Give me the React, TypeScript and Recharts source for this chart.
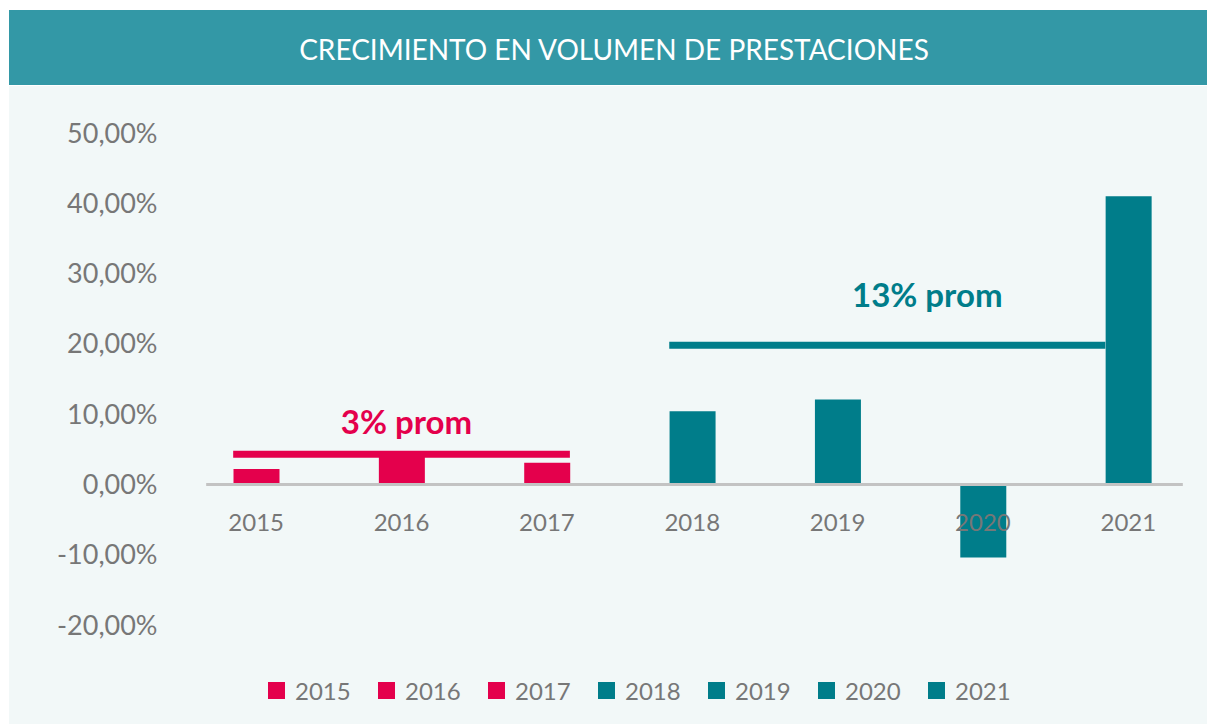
import { BarChart, Bar, XAxis, YAxis, ReferenceLine, Legend } from "recharts";

const years = ["2015", "2016", "2017", "2018", "2019", "2020", "2021"];
const growth = [2.2, 4.3, 3.1, 10.4, 12.1, -10.4, 41.0];
const yTicks = [-20, -10, 0, 10, 20, 30, 40, 50];
const pinkYears = ["2015", "2016", "2017"];
const avgLow = 4.3; // height of the "3% prom" bracket
const avgHigh = 19.8; // height of the "13% prom" bracket

const PINK = "#e4004c";
const TEAL = "#007d8a";
const BAR = 46;
const FONT = "Lato, 'Open Sans', sans-serif";

// one row per year, one key per year so every year gets its own legend entry
const rows = years.map((y, i) => {
    const row: Record<string, string | number> = { year: y };
    row["y" + y] = growth[i];
    return row;
});

const colorOf = (y: string) => (pinkYears.includes(y) ? PINK : TEAL);

// line shape that can be pushed past the segment ends
const stretched = (left: number, right: number) => (p: any) => (
    <line
        x1={p.x1 - left}
        y1={p.y1}
        x2={p.x2 + right}
        y2={p.y2}
        stroke={p.stroke}
        strokeWidth={p.strokeWidth}
    />
);

const fmt = (v: number) => `${v.toFixed(2).replace(".", ",")}%`;

const YearTick = ({ x, y, payload }: any) => (
    <text x={x} y={y - 102} dy="0.35em" textAnchor="middle" fill="#777" fontSize={24} fontFamily={FONT}>
        {payload.value}
    </text>
);

const LegendRow = ({ payload }: any) => (
    <div style={{ display: "flex", paddingLeft: 259, height: 40, alignItems: "center" }}>
        {(payload || []).map((e: any) => (
            <div key={e.value} style={{ display: "flex", alignItems: "center", width: 110 }}>
                <span style={{ width: 17, height: 17, background: e.color, marginRight: 10 }} />
                <span style={{ color: "#777", fontSize: 24, fontFamily: FONT }}>{e.value}</span>
            </div>
        ))}
    </div>
);

export default function App() {
    return (
        <div style={{ position: "absolute", left: 0, top: 0, width: 1207, height: 724, background: "#fff" }}>
            <div
                style={{
                    position: "absolute",
                    left: 9,
                    top: 10,
                    width: 1198,
                    height: 75,
                    background: "#3398a6",
                    color: "#fff",
                    fontFamily: FONT,
                    fontSize: 28,
                    display: "flex",
                    alignItems: "center",
                    justifyContent: "center",
                    paddingLeft: 12,
                    paddingTop: 2,
                    boxSizing: "border-box",
                }}
            >
                CRECIMIENTO EN VOLUMEN DE PRESTACIONES
            </div>
            <div style={{ position: "absolute", left: 9, top: 86, width: 1198, height: 638, background: "#f2f8f8" }}>
                <BarChart
                    width={1198}
                    height={638}
                    data={rows}
                    margin={{ top: 47, right: 6, left: 0, bottom: 14 }}
                    barSize={BAR}
                >
                    <YAxis
                        domain={[-20, 50]}
                        ticks={yTicks}
                        tickFormatter={fmt}
                        axisLine={false}
                        tickLine={false}
                        tickSize={0}
                        tickMargin={26}
                        width={174.5}
                        tick={{ fill: "#777", fontSize: 27, fontFamily: FONT }}
                    />
                    {years.map((y) => (
                        <Bar
                            key={y}
                            dataKey={"y" + y}
                            name={y}
                            stackId="g"
                            fill={colorOf(y)}
                            isAnimationActive={false}
                        />
                    ))}
                    <ReferenceLine
                        segment={[{ x: "2015", y: 0 }, { x: "2021", y: 0 }]}
                        stroke="#c3c3c3"
                        strokeWidth={3}
                        shape={stretched(50, 54.5)}
                    />
                    <ReferenceLine
                        segment={[{ x: "2015", y: avgLow }, { x: "2017", y: avgLow }]}
                        stroke={PINK}
                        strokeWidth={7}
                        shape={stretched(BAR / 2, BAR / 2)}
                        label={{
                            value: "3% prom",
                            position: "top",
                            offset: 20,
                            dx: 5,
                            fill: PINK,
                            fontSize: 33,
                            fontWeight: 700,
                            fontFamily: FONT,
                        }}
                    />
                    <ReferenceLine
                        segment={[{ x: "2018", y: avgHigh }, { x: "2021", y: avgHigh }]}
                        stroke={TEAL}
                        strokeWidth={7}
                        shape={stretched(BAR / 2, -BAR / 2)}
                        label={{
                            value: "13% prom",
                            position: "top",
                            offset: 38,
                            dx: 17,
                            fill: TEAL,
                            fontSize: 33,
                            fontWeight: 700,
                            fontFamily: FONT,
                        }}
                    />
                    <XAxis
                        dataKey="year"
                        axisLine={false}
                        tickLine={false}
                        tickSize={0}
                        tickMargin={0}
                        height={45}
                        tick={<YearTick />}
                        interval={0}
                    />
                    <Legend verticalAlign="bottom" content={<LegendRow />} wrapperStyle={{ height: 40 }} />
                </BarChart>
            </div>
        </div>
    );
}
